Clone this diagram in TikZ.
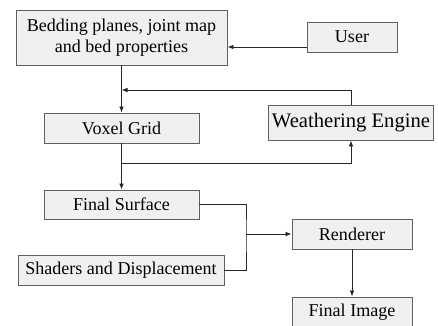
\documentclass[tikz,border=0pt]{standalone}
\usepackage{fontspec}
\setmainfont{Liberation Serif}
\usetikzlibrary{arrows.meta, positioning}

\definecolor{boxfill}{RGB}{240,240,240}
\definecolor{boxline}{RGB}{95,95,95}

\begin{document}
\begin{tikzpicture}[x=0.03cm, y=-0.03cm,
  box/.style={draw=boxline, fill=boxfill, line width=0.8pt, inner sep=0pt, align=center, font=\fontsize{15.4}{18.5}\selectfont},
  arr/.style={-{Latex[length=1.8mm, width=1.4mm]}},
  link/.style={draw=black!85, line width=0.7pt}]
\useasboundingbox (0,0) rectangle (438,325);
\node[box, minimum width=211*0.03cm, minimum height=55*0.03cm] (bedding) at (121.5, 37.5) {Bedding planes, joint map\\and bed properties};
\node[box, minimum width=90*0.03cm, minimum height=30*0.03cm] (user) at (352, 37) {User};
\node[box, minimum width=165*0.03cm, minimum height=35*0.03cm, font=\fontsize{17.6}{21}\selectfont] (weather) at (351, 122.5) {Weathering Engine};
\node[box, minimum width=155*0.03cm, minimum height=30*0.03cm] (voxel) at (121.5, 128) {Voxel Grid};
\node[box, minimum width=155*0.03cm, minimum height=29*0.03cm] (surface) at (121.5, 204.5) {Final Surface};
\node[box, minimum width=120*0.03cm, minimum height=30*0.03cm] (renderer) at (352, 234) {Renderer};
\node[box, minimum width=206*0.03cm, minimum height=30*0.03cm] (shaders) at (121, 270) {Shaders and Displacement};
\node[box, minimum width=120*0.03cm, minimum height=30*0.03cm] (image) at (352, 312) {Final Image};
\coordinate (feedback) at (121.5, 90);
\coordinate (branch) at (121.5, 163);
\coordinate (join) at (246, 234);
\draw[link, arr] (user.west |- 0,47) -- (bedding.east |- 0,47);
\draw[link, arr] (bedding) -- (voxel);
\draw[link, arr] (weather.north) |- (feedback);
\draw[link, arr] (voxel) -- (surface);
\draw[link, arr] (branch) -| (weather.south);
\draw[link] (surface.east) -| (join) |- (shaders.east);
\draw[link, arr] (join) -- (renderer);
\draw[link, arr] (renderer) -- (image);
\end{tikzpicture}
\end{document}
